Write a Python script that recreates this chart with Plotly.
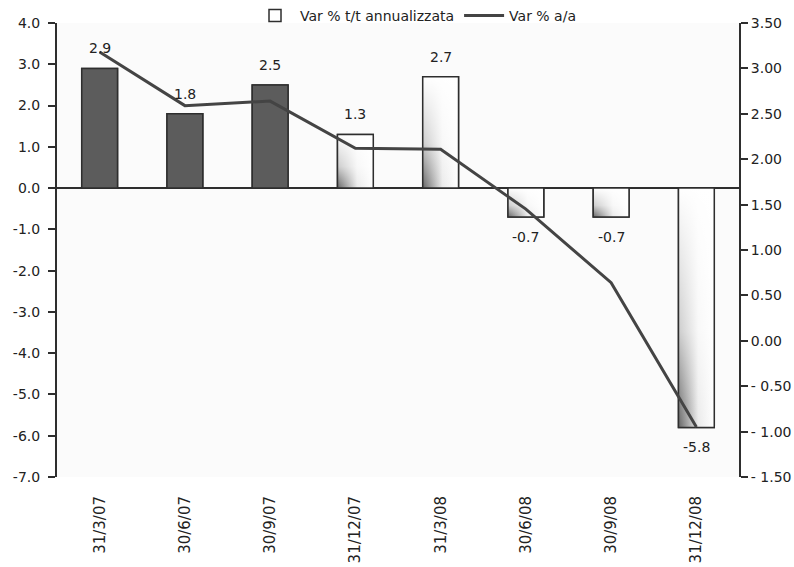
import plotly.graph_objects as go

# Quarterly dates and values
dates = ["31/3/07", "30/6/07", "30/9/07", "31/12/07", "31/3/08", "30/6/08", "30/9/08", "31/12/08"]
qoq_annualised = [2.9, 1.8, 2.5, 1.3, 2.7, -0.7, -0.7, -5.8]      # Var % t/t annualizzata (left axis)
yoy = [3.18, 2.59, 2.64, 2.12, 2.11, 1.45, 0.64, -0.95]             # Var % a/a (right axis)
solid_bars = [True, True, True, False, False, False, False, False]  # dark solid vs shaded bars

left_ticks = [4, 3, 2, 1, 0, -1, -2, -3, -4, -5, -6, -7]
right_ticks = [3.5, 3.0, 2.5, 2.0, 1.5, 1.0, 0.5, 0.0, -0.5, -1.0, -1.5]

FONT = "DejaVu Sans"
INK = "#2e2e2e"
BAR_W = 0.42

xs = list(range(len(dates)))
fig = go.Figure()

# Base bars: white fill with outline (also used for the legend entry)
fig.add_trace(go.Bar(
    x=xs, y=qoq_annualised, width=BAR_W, name="Var % t/t annualizzata",
    marker=dict(color="white", line=dict(color=INK, width=1.5)),
    hoverinfo="skip",
))

# Fill overlays for each bar, computed from the bar value
for i, v in enumerate(qoq_annualised):
    x0, x1 = i - BAR_W / 2, i + BAR_W / 2
    px = [x0, x1, x1, x0, x0]
    py = [0, 0, v, v, 0]
    lo, hi = min(0, v), max(0, v)
    if solid_bars[i]:
        fig.add_trace(go.Scatter(
            x=px, y=py, mode="lines", fill="toself", fillcolor="#5c5c5c",
            line=dict(color=INK, width=1.5), showlegend=False, hoverinfo="skip",
        ))
    else:
        # dark on the left fading to white on the right
        fig.add_trace(go.Scatter(
            x=px, y=py, mode="lines", fill="toself",
            fillgradient=dict(type="horizontal", start=x0, stop=x1,
                              colorscale=[[0, "#555555"], [0.55, "#e8e8e8"], [1, "#ffffff"]]),
            line=dict(color="rgba(0,0,0,0)", width=0), showlegend=False, hoverinfo="skip",
        ))
        # white wash towards the top of the bar
        fig.add_trace(go.Scatter(
            x=px, y=py, mode="lines", fill="toself",
            fillgradient=dict(type="vertical", start=lo, stop=hi,
                              colorscale=[[0, "rgba(255,255,255,0.1)"], [0.4, "rgba(255,255,255,0.7)"],
                                          [1, "rgba(255,255,255,1)"]]),
            line=dict(color=INK, width=1.5), showlegend=False, hoverinfo="skip",
        ))

# Year-on-year line on the right axis
fig.add_trace(go.Scatter(
    x=xs, y=yoy, yaxis="y2", mode="lines", name="Var % a/a",
    line=dict(color="#444444", width=3), hoverinfo="skip",
))

# Value labels above / below each bar
annotations = []
for i, v in enumerate(qoq_annualised):
    annotations.append(dict(
        x=i, y=v, xref="x", yref="y", text=f"{v:.1f}", showarrow=False,
        yshift=20 if v >= 0 else -20, font=dict(family=FONT, size=14, color="#222"),
    ))

fig.update_layout(
    width=794, height=567,
    margin=dict(l=57, r=55, t=23, b=90, autoexpand=False),
    paper_bgcolor="white", plot_bgcolor="#fbfbfb",
    font=dict(family=FONT, size=14, color="#222"),
    showlegend=True,
    legend=dict(orientation="h", x=0.283, xanchor="left", yref="container", y=1.0, yanchor="top",
                font=dict(family=FONT, size=14, color="#222"), bgcolor="rgba(0,0,0,0)",
                itemwidth=40, tracegroupgap=0),
    annotations=annotations,
    xaxis=dict(
        range=[-0.5, len(dates) - 0.5], tickvals=xs, ticktext=dates, tickangle=-90,
        showline=False, zeroline=False, showgrid=False, automargin=False,
        ticks="outside", ticklen=12, tickcolor="rgba(0,0,0,0)",
        tickfont=dict(family=FONT, size=15, color="#222"),
    ),
    yaxis=dict(
        range=[-7, 4], tickvals=left_ticks, ticktext=[f"{t:.1f}" for t in left_ticks],
        showline=True, linecolor=INK, linewidth=2, ticks="outside", ticklen=7,
        tickcolor=INK, tickwidth=2, showgrid=False, automargin=False, ticklabelstandoff=5,
        zeroline=True, zerolinecolor=INK, zerolinewidth=2,
        tickfont=dict(family=FONT, size=14, color="#222"),
    ),
    yaxis2=dict(
        range=[-1.5, 3.5], overlaying="y", side="right", tickvals=right_ticks,
        ticktext=[(f"{t:.2f}" if t >= 0 else "- " + f"{-t:.2f}") for t in right_ticks],
        showline=True, linecolor=INK, linewidth=2, ticks="outside", ticklen=7,
        tickcolor=INK, tickwidth=2, showgrid=False, zeroline=False, automargin=False,
        tickfont=dict(family=FONT, size=14, color="#222"),
    ),
)

fig.write_html("out.html")
